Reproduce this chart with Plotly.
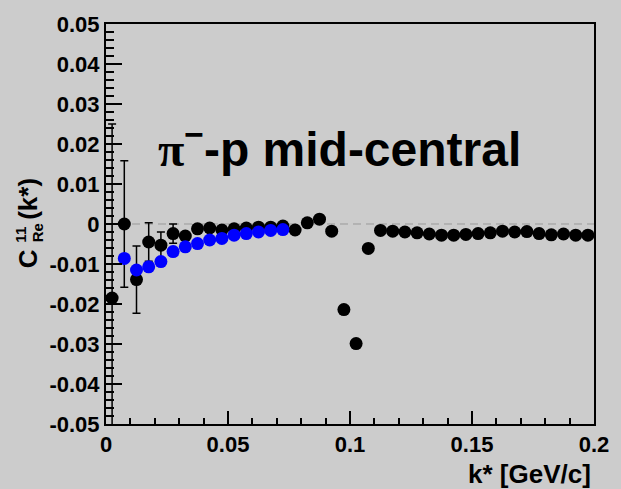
import plotly.graph_objects as go

# k* bin centres (GeV/c) and C11_Re values for the full pi- p sample
k_black = [0.0025, 0.0075, 0.0125, 0.0175, 0.0225, 0.0275, 0.0325, 0.0375,
           0.0425, 0.0475, 0.0525, 0.0575, 0.0625, 0.0675, 0.0725, 0.0775,
           0.0825, 0.0875, 0.0925, 0.0975, 0.1025, 0.1075, 0.1125, 0.1175,
           0.1225, 0.1275, 0.1325, 0.1375, 0.1425, 0.1475, 0.1525, 0.1575,
           0.1625, 0.1675, 0.1725, 0.1775, 0.1825, 0.1875, 0.1925, 0.1975]
c_black = [-0.0185, 0.0000, -0.0139, -0.0045, -0.0053, -0.0024, -0.0030, -0.0012,
           -0.0010, -0.0015, -0.0012, -0.0010, -0.0008, -0.0008, -0.0005, -0.0015,
           0.0003, 0.0012, -0.0018, -0.0214, -0.0299, -0.0061, -0.0016, -0.0018,
           -0.0020, -0.0022, -0.0025, -0.0028, -0.0028, -0.0026, -0.0024, -0.0022,
           -0.0018, -0.0020, -0.0019, -0.0024, -0.0027, -0.0025, -0.0028, -0.0028]
err_black = [0.0435, 0.0158, 0.0084, 0.0048, 0.0033, 0.0024, 0.0, 0.0,
             0.0, 0.0, 0.0, 0.0, 0.0, 0.0, 0.0, 0.0,
             0.0, 0.0, 0.0, 0.0, 0.0, 0.0, 0.0, 0.0,
             0.0, 0.0, 0.0, 0.0, 0.0, 0.0, 0.0, 0.0,
             0.0, 0.0, 0.0, 0.0, 0.0, 0.0, 0.0, 0.0]

# fitted / model curve points
k_blue = [0.0075, 0.0125, 0.0175, 0.0225, 0.0275, 0.0325, 0.0375,
          0.0425, 0.0475, 0.0525, 0.0575, 0.0625, 0.0675, 0.0725]
c_blue = [-0.0086, -0.0115, -0.0107, -0.0094, -0.0069, -0.0057, -0.0049,
          -0.0040, -0.0036, -0.0028, -0.0024, -0.0020, -0.0016, -0.0014]

x_ticks = [0, 0.05, 0.1, 0.15, 0.2]
x_ticktext = ["0", "0.05", "0.1", "0.15", "0.2"]
y_ticks = [-0.05, -0.04, -0.03, -0.02, -0.01, 0, 0.01, 0.02, 0.03, 0.04, 0.05]
y_ticktext = ["-0.05", "-0.04", "-0.03", "-0.02", "-0.01", "0",
              "0.01", "0.02", "0.03", "0.04", "0.05"]
X_RANGE = [0, 0.2]
Y_RANGE = [-0.05, 0.05]

BG = "#cccccc"
FONT = "Liberation Sans"
W, H = 621, 489
ML, MR, MT, MB = 106, 17, 20, 65
PW, PH = W - ML - MR, H - MT - MB


def px(x):
    return (x - ML) / PW


def py(y):
    return 1 - (y - MT) / PH


fig = go.Figure()

# zero reference line
fig.add_trace(go.Scatter(
    x=X_RANGE, y=[0, 0], mode="lines",
    line=dict(color="#999999", width=1, dash="8px,5px"),
    hoverinfo="skip", showlegend=False))

fig.add_trace(go.Scatter(
    x=k_black, y=c_black, mode="markers",
    marker=dict(color="black", size=13, line=dict(width=0)),
    error_y=dict(type="data", array=err_black, visible=True,
                 color="black", thickness=1.5, width=4),
    showlegend=False))

fig.add_trace(go.Scatter(
    x=k_blue, y=c_blue, mode="markers",
    marker=dict(color="#0000ff", size=13, line=dict(width=0)),
    showlegend=False))

# invisible trace that keeps the secondary (minor-tick) axes alive
fig.add_trace(go.Scatter(
    x=X_RANGE, y=Y_RANGE, xaxis="x2", yaxis="y2", mode="markers",
    marker=dict(opacity=0), hoverinfo="skip", showlegend=False))

tickfont = dict(family=FONT, size=22, color="black", weight="bold")

fig.update_layout(
    xaxis=dict(
        range=X_RANGE, showgrid=False, zeroline=False,
        showline=True, linecolor="black", linewidth=2, mirror=True,
        ticks="inside", ticklen=13, tickwidth=2, tickcolor="black",
        tickmode="array", tickvals=x_ticks, ticktext=x_ticktext,
        tickfont=tickfont),
    yaxis=dict(
        range=Y_RANGE, showgrid=False, zeroline=False,
        showline=True, linecolor="black", linewidth=2, mirror=True,
        ticks="inside", ticklen=16, tickwidth=2, tickcolor="black",
        tickmode="array", tickvals=y_ticks, ticktext=y_ticktext,
        tickfont=tickfont),
    # secondary divisions
    xaxis2=dict(
        overlaying="x", anchor="y2", side="bottom", range=X_RANGE,
        showgrid=False, zeroline=False, showline=False, showticklabels=False,
        ticks="inside", ticklen=6, tickwidth=2, tickcolor="black",
        tickmode="linear", tick0=0, dtick=0.01),
    yaxis2=dict(
        overlaying="y", anchor="x2", side="left", range=Y_RANGE,
        showgrid=False, zeroline=False, showline=False, showticklabels=False,
        ticks="inside", ticklen=8, tickwidth=2, tickcolor="black",
        tickmode="linear", tick0=0, dtick=0.002),
)

titlefont = dict(family=FONT, size=26, color="black", weight="bold")
smallfont = dict(family=FONT, size=15, color="black", weight="bold")

annotations = [
    # in-plot label
    dict(x=0.0205, y=0.0196, xref="x", yref="y", xanchor="left", yanchor="middle",
         text="<span style=\"font-family:'Liberation Serif'\">π</span><sup>−</sup>-p mid-central",
         showarrow=False,
         font=dict(family=FONT, size=48, color="black", weight="bold")),
    # x axis title
    dict(x=px(603), y=py(475), xref="paper", yref="paper",
         xanchor="right", yanchor="middle", text="k* [GeV/c]",
         showarrow=False, font=titlefont),
    # y axis title, built from stacked pieces
    dict(x=px(26), y=py(257), xref="paper", yref="paper",
         xanchor="center", yanchor="middle", text="C", textangle=-90,
         showarrow=False, font=titlefont),
    dict(x=px(19), y=py(233), xref="paper", yref="paper",
         xanchor="center", yanchor="middle", text="11", textangle=-90,
         showarrow=False, font=smallfont),
    dict(x=px(37), y=py(231), xref="paper", yref="paper",
         xanchor="center", yanchor="middle", text="Re", textangle=-90,
         showarrow=False, font=smallfont),
    dict(x=px(27), y=py(197), xref="paper", yref="paper",
         xanchor="center", yanchor="middle", text="(k*)", textangle=-90,
         showarrow=False, font=titlefont),
]

fig.update_layout(
    width=W, height=H,
    margin=dict(l=ML, r=MR, t=MT, b=MB),
    paper_bgcolor=BG, plot_bgcolor=BG,
    annotations=annotations,
    showlegend=False)

fig.write_html("out.html")
